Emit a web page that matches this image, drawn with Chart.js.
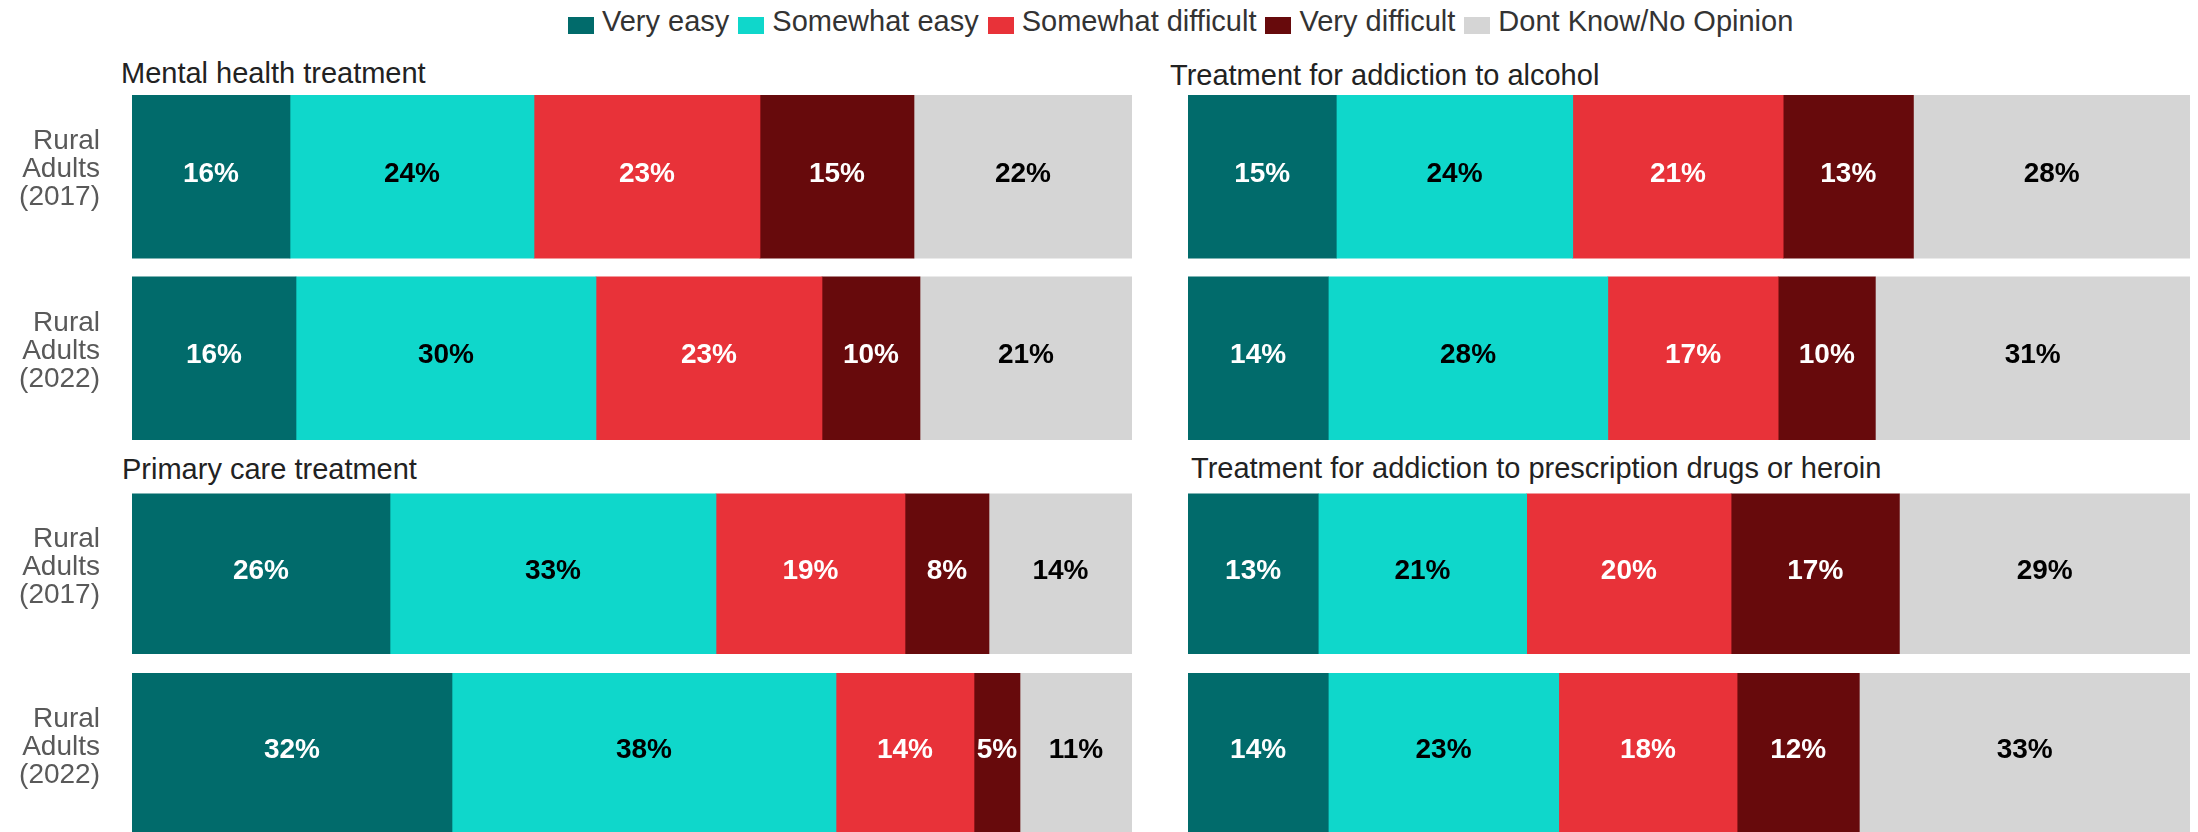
<!DOCTYPE html>
<html>
<head>
<meta charset="utf-8">
<title>Ease of getting treatment - rural adults</title>
<script src="https://cdn.jsdelivr.net/npm/chart.js@4.4.1/dist/chart.umd.min.js"></script>
<style>
  html, body {
    margin: 0;
    padding: 0;
    background: #fff;
  }
  body {
    position: relative;
    width: 2198px;
    height: 832px;
    overflow: hidden;
    font-family: 'Liberation Sans', Arial, sans-serif;
  }
  #legend {
    position: absolute;
    left: 568px;
    top: 7px;
    display: flex;
    align-items: flex-start;
    font-size: 29px;
    line-height: 29px;
    color: #333;
    white-space: nowrap;
  }
  #legend .item {
    display: flex;
    align-items: flex-start;
    margin-right: 9px;
  }
  #legend .box {
    width: 26px;
    height: 17px;
    margin-top: 10px;
    margin-right: 8px;
  }
  .panel-title {
    position: absolute;
    font-size: 29px;
    line-height: 29px;
    color: #222;
    white-space: nowrap;
  }
  .chart-box {
    position: absolute;
  }
</style>
</head>
<body>

<div id="legend"></div>

<div class="panel-title" style="left:121px; top:59px;" id="title0"></div>
<div class="panel-title" style="left:1170px; top:61px;" id="title1"></div>
<div class="panel-title" style="left:122px; top:455px;" id="title2"></div>
<div class="panel-title" style="left:1191px; top:454px;" id="title3"></div>

<div class="chart-box" style="left:0; top:86px; width:1132px; height:363px;"><canvas id="chart0"></canvas></div>
<div class="chart-box" style="left:1188px; top:86px; width:1002px; height:363px;"><canvas id="chart1"></canvas></div>
<div class="chart-box" style="left:0; top:484px; width:1132px; height:359px;"><canvas id="chart2"></canvas></div>
<div class="chart-box" style="left:1188px; top:484px; width:1002px; height:359px;"><canvas id="chart3"></canvas></div>

<script>
// ---- data (percent of respondents) ----
const categories = ['Very easy', 'Somewhat easy', 'Somewhat difficult', 'Very difficult', 'Dont Know/No Opinion'];
const rowLabels = [['Rural', 'Adults', '(2017)'], ['Rural', 'Adults', '(2022)']];
const panelTitles = [
  'Mental health treatment',
  'Treatment for addiction to alcohol',
  'Primary care treatment',
  'Treatment for addiction to prescription drugs or heroin'
];

// one array per panel and survey year, in the order of categories
const mental2017 = [15.8, 24.4, 22.6, 15.4, 21.8];
const mental2022 = [16.4, 30.0, 22.6, 9.8, 21.2];
const alcohol2017 = [14.8, 23.6, 21.0, 13.0, 27.6];
const alcohol2022 = [14.0, 27.9, 17.0, 9.7, 31.4];
const primary2017 = [25.8, 32.6, 18.9, 8.4, 14.3];
const primary2022 = [32.0, 38.4, 13.8, 4.6, 11.2];
const drugs2017 = [13.0, 20.8, 20.4, 16.8, 29.0];
const drugs2022 = [14.0, 23.0, 17.8, 12.2, 33.0];

// ---- styles ----
const barColors = ['#016b6b', '#0fd7cb', '#e83239', '#670a0c', '#d5d5d5'];
const labelColors = ['#ffffff', '#000000', '#ffffff', '#ffffff', '#000000'];

Chart.defaults.font.family = "'Liberation Sans', Arial, sans-serif";

// legend across the top
const legendEl = document.getElementById('legend');
categories.forEach(function(cat, i) {
  const item = document.createElement('div');
  item.className = 'item';
  const box = document.createElement('span');
  box.className = 'box';
  box.style.background = barColors[i];
  const txt = document.createElement('span');
  txt.textContent = cat;
  item.appendChild(box);
  item.appendChild(txt);
  legendEl.appendChild(item);
});

panelTitles.forEach(function(t, i) {
  document.getElementById('title' + i).textContent = t;
});

// draws the rounded percentage in the middle of every segment
const segmentLabels = {
  id: 'segmentLabels',
  afterDatasetsDraw(chart) {
    const ctx = chart.ctx;
    ctx.save();
    ctx.font = 'bold 28px ' + Chart.defaults.font.family;
    ctx.textAlign = 'center';
    ctx.textBaseline = 'alphabetic';
    chart.data.datasets.forEach(function(ds, di) {
      const meta = chart.getDatasetMeta(di);
      meta.data.forEach(function(bar, i) {
        const v = ds.data[i];
        const cx = (bar.x + bar.base) / 2;
        ctx.fillStyle = labelColors[di];
        ctx.fillText(Math.round(v) + '%', cx, bar.y + 5);
      });
    });
    ctx.restore();
  }
};

function drawPanel(canvasId, first, second, showRows, thickness, rowOffset) {
  const ctx = document.getElementById(canvasId).getContext('2d');
  const datasets = categories.map(function(cat, i) {
    return {
      label: cat,
      data: [first[i], second[i]],
      backgroundColor: barColors[i],
      borderWidth: 0,
      barThickness: thickness
    };
  });

  const yAxis = {
    stacked: true,
    display: showRows,
    grid: { display: false, drawTicks: false },
    border: { display: false },
    ticks: {
      color: '#595959',
      padding: 32,
      labelOffset: rowOffset,
      font: { size: 28, lineHeight: 1 }
    }
  };
  if (showRows) {
    // fixed label column, and no extra room above/below for the labels
    yAxis.afterFit = function(scale) {
      scale.width = 132;
      scale.paddingTop = 0;
      scale.paddingBottom = 0;
    };
  }

  return new Chart(ctx, {
    type: 'bar',
    data: {
      labels: rowLabels,
      datasets: datasets
    },
    options: {
      indexAxis: 'y',
      responsive: true,
      maintainAspectRatio: false,
      animation: false,
      layout: { padding: 0 },
      scales: {
        x: {
          stacked: true,
          min: 0,
          max: 100,
          display: false
        },
        y: yAxis
      },
      plugins: {
        legend: { display: false },
        title: { display: false },
        tooltip: { enabled: false }
      }
    },
    plugins: [segmentLabels]
  });
}

drawPanel('chart0', mental2017, mental2022, true, 163, -7);
drawPanel('chart1', alcohol2017, alcohol2022, false, 163, -7);
drawPanel('chart2', primary2017, primary2022, true, 160, -6);
drawPanel('chart3', drugs2017, drugs2022, false, 160, -6);
</script>
</body>
</html>
